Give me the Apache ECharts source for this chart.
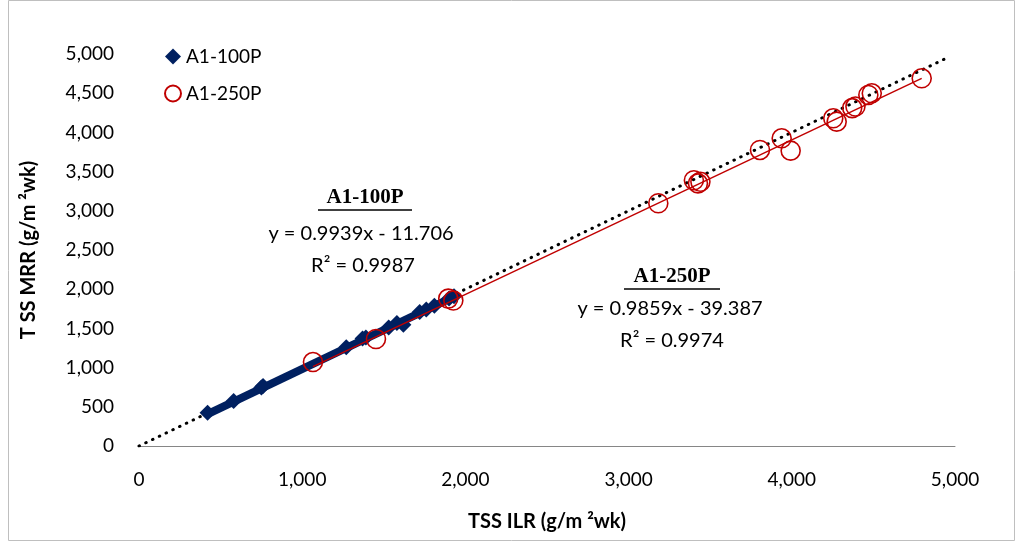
<!DOCTYPE html>
<html>
<head>
<meta charset="utf-8">
<script src="https://cdn.jsdelivr.net/npm/echarts@6/dist/echarts.min.js"></script>
<style>html,body{margin:0;padding:0;background:#fff}#c{width:1023px;height:541px}</style>
</head>
<body>
<div id="c"></div>
<script>
// Data
const a100X = [420, 580, 750, 760, 1270, 1370, 1390, 1530, 1580, 1620, 1720, 1760, 1810, 1900, 1930];
const a100Y = [425, 575, 745, 765, 1260, 1370, 1385, 1510, 1570, 1545, 1710, 1740, 1790, 1880, 1910];
const a250X = [1066, 1452, 1895, 1926, 3182, 3400, 3425, 3440, 3805, 3938, 3993, 4254, 4275, 4370, 4390, 4469, 4490, 4796];
const a250Y = [1071, 1365, 1880, 1855, 3096, 3390, 3350, 3370, 3776, 3925, 3767, 4180, 4137, 4310, 4330, 4477, 4499, 4690];
const xTicks = [0, 1000, 2000, 3000, 4000, 5000];
const yTicks = [0, 500, 1000, 1500, 2000, 2500, 3000, 3500, 4000, 4500, 5000];
const fit100 = {slope: 0.9939, intercept: -11.706, r2: '0.9987'};
const fit250 = {slope: 0.9859, intercept: -39.387, r2: '0.9974'};
const oneToOne = [0, 4950];

function trend(xs, f) {
  const mn = Math.min(...xs), mx = Math.max(...xs);
  return [[mn, f.slope * mn + f.intercept], [mx, f.slope * mx + f.intercept]];
}
const pts = (xs, ys) => xs.map((x, i) => [x, ys[i]]);

const chart = echarts.init(document.getElementById('c'), null, {renderer: 'canvas'});
const sans = 'Lato, "Open Sans", sans-serif';
const serif = '"Liberation Serif", "DejaVu Serif", serif';

chart.setOption({
  animation: false,
  backgroundColor: '#fff',
  grid: {left: 139, right: 68, top: 54, bottom: 95, containLabel: false},
  legend: {
    data: ['A1-100P', 'A1-250P'],
    orient: 'vertical', left: 159, top: 42, itemGap: 18, itemWidth: 16, itemHeight: 16,
    textStyle: {fontFamily: sans, fontSize: 19, color: '#000'}
  },
  xAxis: {
    type: 'value', min: 0, max: 5000, interval: 1000,
    axisLine: {show: true, lineStyle: {color: '#868686', width: 1}},
    axisTick: {show: false},
    splitLine: {show: false},
    axisLabel: {fontFamily: sans, fontSize: 19, color: '#000', margin: 24,
      formatter: v => v.toLocaleString('en-US')},
    name: 'TSS ILR (g/m \u00B2wk)', nameLocation: 'middle', nameGap: 66,
    nameTextStyle: {fontFamily: sans, fontSize: 20, fontWeight: 'bold', color: '#000'}
  },
  yAxis: {
    type: 'value', min: 0, max: 5000, interval: 500,
    axisLine: {show: false}, axisTick: {show: false}, splitLine: {show: false},
    axisLabel: {fontFamily: sans, fontSize: 19, color: '#000', margin: 25,
      formatter: v => v.toLocaleString('en-US')},
    name: 'T SS MRR (g/m \u00B2wk)', nameLocation: 'middle', nameGap: 100, nameRotate: 90,
    nameTextStyle: {fontFamily: sans, fontSize: 20, fontWeight: 'bold', color: '#000'}
  },
  series: [
    {
      name: '1:1', type: 'line', symbol: 'none', silent: true,
      data: oneToOne.map(v => [v, v]),
      lineStyle: {color: '#000', width: 3, type: [0.5, 7], cap: 'round'},
      z: 1
    },
    {
      name: 'trend100', type: 'line', symbol: 'none', silent: true,
      data: trend(a100X, fit100),
      lineStyle: {color: '#002060', width: 8}, z: 2
    },
    {
      name: 'trend250', type: 'line', symbol: 'none', silent: true,
      data: trend(a250X, fit250),
      lineStyle: {color: '#C00000', width: 1.5}, z: 4
    },
    {
      name: 'A1-100P', type: 'scatter', symbol: 'diamond', symbolSize: 16,
      data: pts(a100X, a100Y),
      itemStyle: {color: '#002060', opacity: 1}, z: 3
    },
    {
      name: 'A1-250P', type: 'scatter', symbol: 'circle', symbolSize: 19,
      data: pts(a250X, a250Y),
      itemStyle: {color: 'rgba(255,255,255,0)', borderColor: '#C00000', borderWidth: 1.6, opacity: 1}, z: 5
    }
  ],
  graphic: [
    {type: 'rect', shape: {x: 8.5, y: 0.5, width: 1006, height: 540}, style: {fill: 'none', stroke: '#bfbfbf', lineWidth: 1}, silent: true},
    {type: 'text', x: 365, y: 198, style: {text: 'A1-100P', font: 'bold 21px ' + serif, fill: '#000', align: 'center', verticalAlign: 'middle'}},
    {type: 'line', shape: {x1: 318, y1: 210, x2: 412, y2: 210}, style: {stroke: '#000', lineWidth: 1.5}},
    {type: 'text', x: 361, y: 234, style: {text: 'y = ' + fit100.slope + 'x - ' + Math.abs(fit100.intercept), font: '20px ' + sans, fill: '#000', align: 'center', verticalAlign: 'middle'}},
    {type: 'text', x: 363, y: 266, style: {text: 'R\u00B2 = ' + fit100.r2, font: '20px ' + sans, fill: '#000', align: 'center', verticalAlign: 'middle'}},
    {type: 'text', x: 672, y: 277, style: {text: 'A1-250P', font: 'bold 21px ' + serif, fill: '#000', align: 'center', verticalAlign: 'middle'}},
    {type: 'line', shape: {x1: 624, y1: 289, x2: 720, y2: 289}, style: {stroke: '#000', lineWidth: 1.5}},
    {type: 'text', x: 670, y: 309, style: {text: 'y = ' + fit250.slope + 'x - ' + Math.abs(fit250.intercept), font: '20px ' + sans, fill: '#000', align: 'center', verticalAlign: 'middle'}},
    {type: 'text', x: 672, y: 341, style: {text: 'R\u00B2 = ' + fit250.r2, font: '20px ' + sans, fill: '#000', align: 'center', verticalAlign: 'middle'}}
  ]
});
</script>
</body>
</html>
